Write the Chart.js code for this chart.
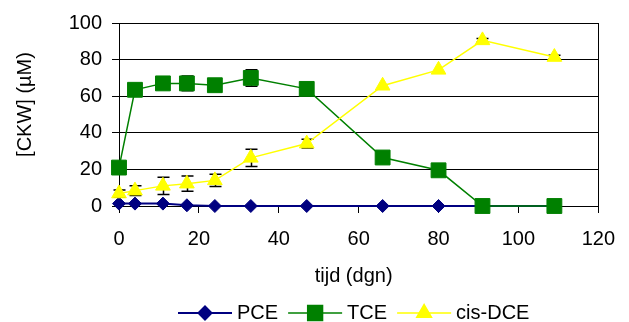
<!DOCTYPE html>
<html><head><meta charset="utf-8">
<script src="https://cdn.jsdelivr.net/npm/chart.js@4/dist/chart.umd.min.js"></script>
<style>html,body{margin:0;padding:0;background:#fff}#wrap{width:629px;height:322px;position:relative}</style>
</head><body><div id="wrap"><canvas id="c" width="629" height="322"></canvas></div>
<script>
const days = [0, 4, 11, 17, 24, 33, 47, 66, 80, 91, 109];
const pce = [1.3, 1.3, 1.3, 0.4, 0, 0, 0, 0, 0, 0, 0];
const tce = [21, 63.5, 67, 67, 66, 70, 64, 26.5, 19.5, 0, 0];
const tceErr = [0, 0, 0, 4, 0, 4.5, 0, 0, 0, 0, 0];
const dce = [6.8, 8.4, 11, 12.2, 14, 26.3, 34.1, 65.7, 74.4, 90.5, 81.4];
const dceErr = [2, 2.7, 4.7, 4.2, 3.4, 4.75, 2.4, 0, 0, 1, 1];
const xTicks = [0, 20, 40, 60, 80, 100, 120];
const yTicks = [0, 20, 40, 60, 80, 100];
const seriesNames = ['PCE', 'TCE', 'cis-DCE'];
const xTitle = 'tijd (dgn)';
const yTitle = '[CKW] (µM)';

const FONT = '"Liberation Sans", Arial, sans-serif';
Chart.defaults.font.family = FONT;
Chart.defaults.font.size = 20;
Chart.defaults.color = '#000';

const toPts = vals => days.map((d, i) => ({x: d, y: vals[i]}));

const styles = [
  {color: '#000080', pointStyle: 'rectRot', radius: 6.5, lw: 2},
  {color: '#008000', pointStyle: 'rect', radius: 10.5, lw: 1.5},
  {color: '#FFFF00', pointStyle: 'triangle', radius: 8.5, lw: 1.5}
];
const seriesVals = [pce, tce, dce];

const datasets = seriesNames.map((name, k) => ({
  label: name,
  data: toPts(seriesVals[k]),
  borderColor: styles[k].color,
  backgroundColor: styles[k].color,
  pointBackgroundColor: styles[k].color,
  pointBorderColor: styles[k].color,
  pointBorderWidth: 1,
  pointStyle: styles[k].pointStyle,
  pointRadius: styles[k].radius,
  borderWidth: styles[k].lw,
  tension: 0,
  clip: false,
  order: 3 - k
}));

function drawMarker(ctx, st, x, y) {
  ctx.fillStyle = st.color; ctx.strokeStyle = st.color;
  Chart.helpers.drawPoint(ctx, {pointStyle: st.pointStyle, radius: st.radius, rotation: 0, borderWidth: 1}, x, y);
}

const extras = {
  id: 'extras',
  beforeDatasetsDraw(chart) {
    const ctx = chart.ctx, xs = chart.scales.x, ys = chart.scales.y;
    ctx.save();
    ctx.strokeStyle = '#000'; ctx.lineWidth = 1.5;
    [[tce, tceErr], [dce, dceErr]].forEach(([vals, errs]) => {
      vals.forEach((v, i) => {
        const e = errs[i]; if (!e) return;
        const px = Math.round(xs.getPixelForValue(days[i])) + 0.5;
        const y1 = ys.getPixelForValue(v + e), y2 = ys.getPixelForValue(v - e);
        ctx.beginPath();
        ctx.moveTo(px, y1); ctx.lineTo(px, y2);
        ctx.moveTo(px - 6, y1); ctx.lineTo(px + 6, y1);
        ctx.moveTo(px - 6, y2); ctx.lineTo(px + 6, y2);
        ctx.stroke();
      });
    });
    ctx.restore();
  },
  afterDraw(chart) {
    const ctx = chart.ctx, a = chart.chartArea;
    ctx.save();
    ctx.fillStyle = '#000';
    ctx.font = '20px ' + FONT;
    // y title
    ctx.save();
    ctx.translate(25, (a.top + a.bottom) / 2 - 10);
    ctx.rotate(-Math.PI / 2);
    ctx.textAlign = 'center'; ctx.textBaseline = 'middle';
    ctx.fillText(yTitle, 0, 0);
    ctx.restore();
    // x title
    ctx.textAlign = 'center'; ctx.textBaseline = 'alphabetic';
    ctx.fillText(xTitle, (a.left + a.right) / 2 - 5, a.bottom + 76);
    // legend
    const ly = a.bottom + 107;
    let lx = 178;
    seriesNames.forEach((name, k) => {
      const st = styles[k];
      ctx.strokeStyle = st.color; ctx.lineWidth = st.lw;
      ctx.beginPath(); ctx.moveTo(lx, ly); ctx.lineTo(lx + 54, ly); ctx.stroke();
      drawMarker(ctx, st, lx + 27, ly);
      ctx.fillStyle = '#000'; ctx.textAlign = 'left'; ctx.textBaseline = 'middle';
      ctx.fillText(name, lx + 59, ly);
      lx += 59 + ctx.measureText(name).width + 10;
    });
    ctx.restore();
  }
};

new Chart(document.getElementById('c'), {
  type: 'line',
  data: {datasets},
  options: {
    responsive: false,
    devicePixelRatio: 1,
    animation: false,
    layout: {padding: {top: 23, right: 22, left: 0, bottom: 0}},
    plugins: {legend: {display: false}, tooltip: {enabled: false}},
    scales: {
      x: {
        type: 'linear', min: 0, max: 120,
        afterBuildTicks: s => { s.ticks = xTicks.map(v => ({value: v})); },
        afterFit: s => { s.height = 116; },
        ticks: {padding: 14, color: '#000'},
        grid: {
          color: c => (c.tick && c.tick.value === 120) ? '#000' : 'rgba(0,0,0,0)',
          tickColor: '#000', tickLength: 7, lineWidth: 1
        },
        border: {display: true, color: '#000', width: 1}
      },
      y: {
        type: 'linear', min: 0, max: 100,
        afterBuildTicks: s => { s.ticks = yTicks.map(v => ({value: v})); },
        afterFit: s => { s.width = 119; },
        ticks: {padding: 10, color: '#000'},
        grid: {color: '#000', tickColor: '#000', tickLength: 7, lineWidth: 1},
        border: {display: true, color: '#000', width: 1}
      }
    }
  },
  plugins: [extras]
});
</script>
</body></html>
